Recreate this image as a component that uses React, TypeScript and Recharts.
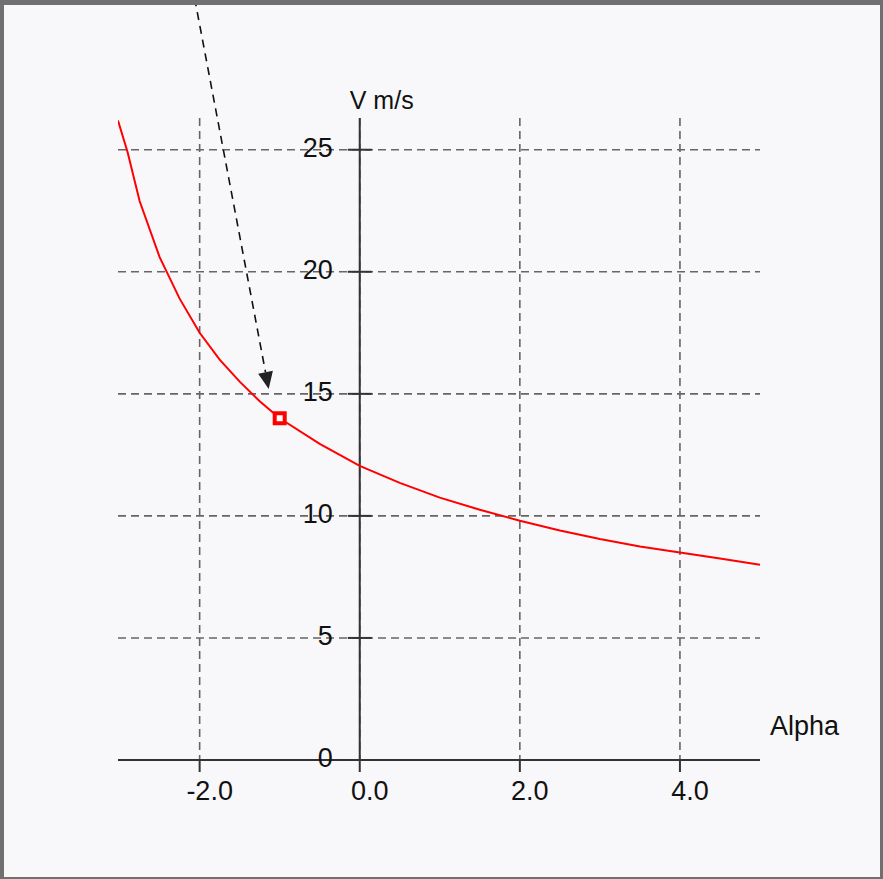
import React from 'react';
import {
  ComposedChart,
  Line,
  Scatter,
  XAxis,
  YAxis,
  CartesianGrid,
  ReferenceLine,
  ReferenceDot,
} from 'recharts';

// Curve: V (m/s) against Alpha
const alphaValues = [-3.02, -2.9, -2.75, -2.5, -2.25, -2.0, -1.75, -1.5, -1.25, -1.0, -0.5, 0, 0.5, 1.0, 1.5, 2.0, 2.5, 3.0, 3.5, 4.0, 4.5, 5.0];
const speedValues = [26.2, 24.9, 22.9, 20.6, 18.9, 17.5, 16.4, 15.5, 14.7, 14.0, 12.95, 12.05, 11.35, 10.75, 10.25, 9.8, 9.4, 9.05, 8.75, 8.5, 8.25, 8.0];

// Highlighted operating point
const markerPoint = [{ alpha: -1.0, v: 14.0 }];

// Arrow pointing at the operating point (start above the plot, tip near the curve)
const arrowStart = { alpha: -2.0625, v: 31.2 };
const arrowTip = { alpha: -1.1375, v: 15.2 };

const xTicks = [-2, 0, 2, 4];
const yTicks = [0, 5, 10, 15, 20, 25];
const xDomain = [-3.02, 5];
const yDomain = [0, 26.3];
const xAxisTitle = 'Alpha';
const yAxisTitle = 'V m/s';

const data = alphaValues.map((a, i) => ({ alpha: a, v: speedValues[i] }));

const FONT = '"Liberation Sans", Arial, sans-serif';
const AXIS_COLOR = '#333333';
const TEXT_COLOR = '#111111';

const ArrowShape = (props: any) => {
  const { x1, y1, x2, y2 } = props;
  const dx = x2 - x1;
  const dy = y2 - y1;
  const len = Math.sqrt(dx * dx + dy * dy) || 1;
  const ux = dx / len;
  const uy = dy / len;
  const headLen = 17;
  const headHalf = 7.5;
  const bx = x2 - ux * headLen;
  const by = y2 - uy * headLen;
  const px = -uy;
  const py = ux;
  return (
    <g>
      <line x1={x1} y1={y1} x2={bx} y2={by} stroke="#111" strokeWidth={1.6} strokeDasharray="8 6" />
      <polygon
        points={`${x2},${y2} ${bx + px * headHalf},${by + py * headHalf} ${bx - px * headHalf},${by - py * headHalf}`}
        fill="#222"
      />
    </g>
  );
};

const makeYTick = (label: string) => (props: any) => {
  const { cx, cy } = props;
  return (
    <g>
      <line x1={cx - 12} y1={cy} x2={cx + 12} y2={cy} stroke={AXIS_COLOR} strokeWidth={2} />
      <text x={cx - 27} y={cy + 7} textAnchor="end" fontSize={27} fontFamily={FONT} fill={TEXT_COLOR}>
        {label}
      </text>
    </g>
  );
};

const YTitleShape = (props: any) => {
  const { cx, cy } = props;
  return (
    <text x={cx - 10} y={cy - 9} textAnchor="start" fontSize={25} fontFamily={FONT} fill={TEXT_COLOR}>
      {yAxisTitle}
    </text>
  );
};

const XTitleShape = (props: any) => {
  const { cx, cy } = props;
  return (
    <text x={cx + 10} y={cy - 25} textAnchor="start" fontSize={27} fontFamily={FONT} fill={TEXT_COLOR}>
      {xAxisTitle}
    </text>
  );
};

const MarkerShape = (props: any) => {
  const { cx, cy } = props;
  return <rect x={cx - 5} y={cy - 5} width={10} height={10} fill="#ffffff" stroke="#ff0000" strokeWidth={4} />;
};

export default function App() {
  return (
    <div style={{ position: 'absolute', left: 0, top: 0, width: 883, height: 879, background: '#f8f8fa' }}>
      <ComposedChart
        width={883}
        height={879}
        data={data}
        margin={{ top: 118, right: 123, bottom: 59, left: 118 }}
      >
        <CartesianGrid
          stroke="#666666"
          strokeWidth={1.6}
          strokeDasharray="8 5"
          syncWithTicks
          horizontalValues={yTicks}
          verticalValues={xTicks}
        />
        <XAxis
          dataKey="alpha"
          type="number"
          domain={xDomain}
          allowDataOverflow
          ticks={xTicks}
          tickFormatter={(v: number) => v.toFixed(1)}
          height={60}
          tickSize={12}
          tickMargin={9}
          axisLine={{ stroke: AXIS_COLOR, strokeWidth: 2 }}
          tickLine={{ stroke: AXIS_COLOR, strokeWidth: 2 }}
          tick={{ fill: TEXT_COLOR, fontSize: 27, fontFamily: FONT, dx: 10 }}
        />
        <YAxis type="number" domain={yDomain} allowDataOverflow ticks={yTicks} hide />
        <ReferenceLine x={0} stroke={AXIS_COLOR} strokeWidth={2} />
        {yTicks.map((t) => (
          <ReferenceDot key={t} x={0} y={t} r={1} ifOverflow="visible" shape={makeYTick(String(t))} />
        ))}
        <ReferenceDot x={0} y={yDomain[1]} r={1} ifOverflow="visible" shape={YTitleShape} />
        <ReferenceDot x={xDomain[1]} y={0} r={1} ifOverflow="visible" shape={XTitleShape} />
        <Line
          dataKey="v"
          type="linear"
          stroke="#ff0000"
          strokeWidth={2}
          dot={false}
          activeDot={false}
          isAnimationActive={false}
        />
        <Scatter data={markerPoint} dataKey="v" shape={MarkerShape} isAnimationActive={false} />
        <ReferenceLine
          segment={[
            { x: arrowStart.alpha, y: arrowStart.v },
            { x: arrowTip.alpha, y: arrowTip.v },
          ]}
          ifOverflow="visible"
          shape={ArrowShape}
        />
      </ComposedChart>
      <div
        style={{
          position: 'absolute',
          left: 0,
          top: 0,
          width: 883,
          height: 879,
          boxSizing: 'border-box',
          borderTop: '5px solid #707070',
          borderLeft: '4px solid #707070',
          borderRight: '3px solid #707070',
          borderBottom: '2px solid #707070',
          pointerEvents: 'none',
        }}
      />
    </div>
  );
}
